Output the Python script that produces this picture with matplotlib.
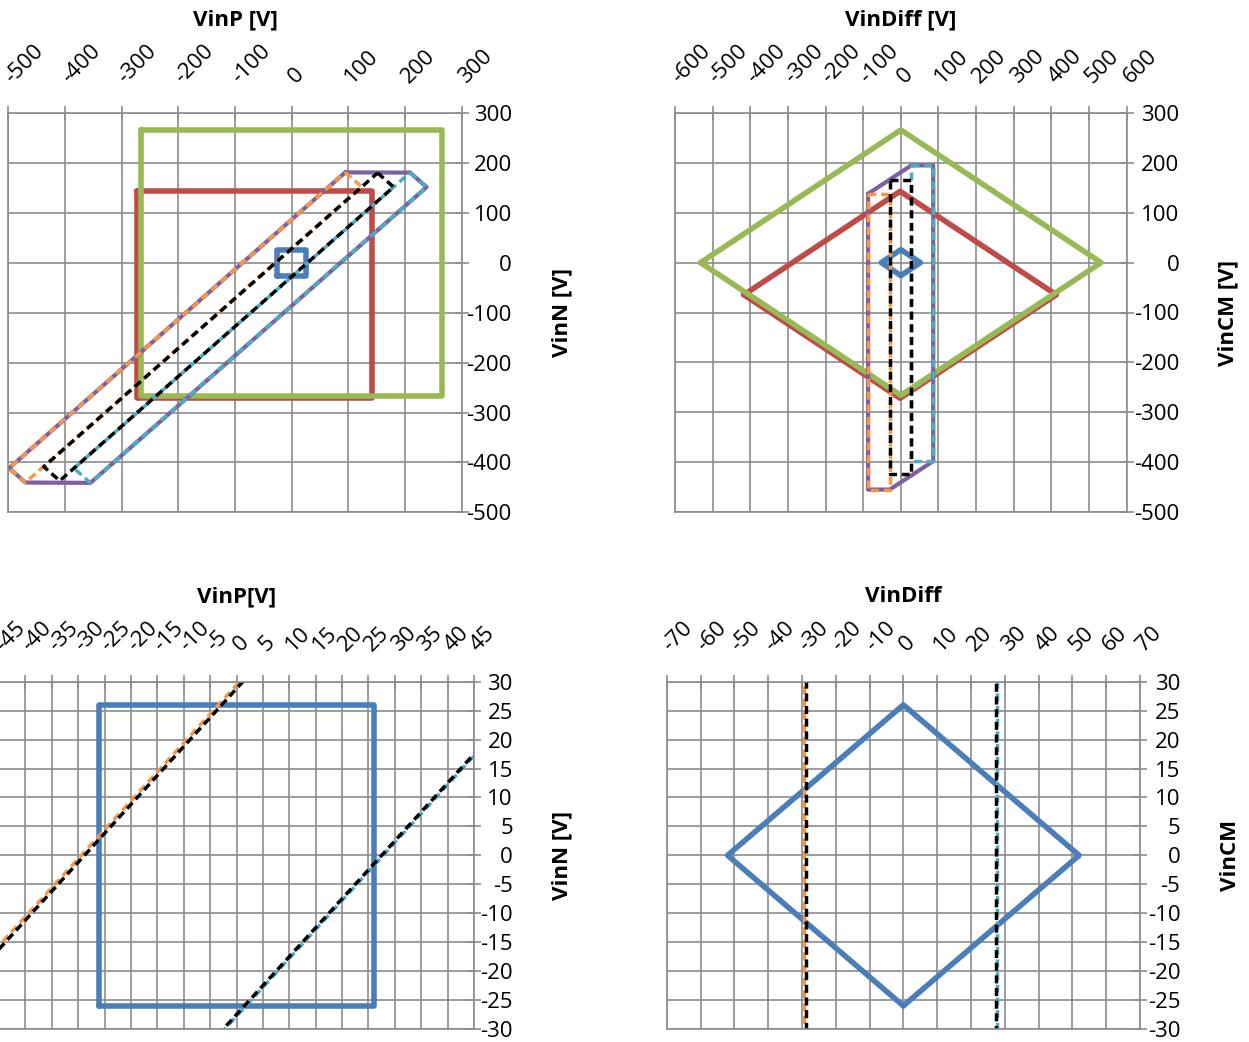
import matplotlib
matplotlib.use('Agg')
import matplotlib.pyplot as plt

plt.rcParams['font.family'] = ['Open Sans', 'DejaVu Sans']
plt.rcParams['axes.unicode_minus'] = False

# ---------------- data (VinP / VinN corner points of each region) ----------------
blue_p = [-26, 26, 26, -26, -26]
blue_n = [-26, -26, 26, 26, -26]
red_p = [-273, 142, 142, -273, -273]
red_n = [144, 144, -271, -271, 144]
green_p = [-266, 266, 266, -266, -266]
green_n = [266, 266, -266, -266, 266]
purple_p = [94.5, 208.9, 238.0, -355.0, -469.7, -498.5, 94.5]
purple_n = [181.5, 181.1, 152.0, -441.0, -440.3, -411.5, 181.5]
cyan_p = [208.9, 238.0, -355.0, -384.1, 208.9]
cyan_n = [181.1, 152.0, -441.0, -411.9, 181.1]
orange_p = [94.5, 123.3, -469.7, -498.5, 94.5]
orange_n = [181.5, 152.7, -440.3, -411.5, 181.5]
black_p = [151.6, 179.75, -409.25, -437.4, 151.6]
black_n = [180.4, 152.25, -436.75, -408.6, 180.4]

# tick labels
tl_xticks = [-500, -400, -300, -200, -100, 0, 100, 200, 300]
tl_yticks = [-500, -400, -300, -200, -100, 0, 100, 200, 300]
tr_xticks = [-600, -500, -400, -300, -200, -100, 0, 100, 200, 300, 400, 500, 600]
tr_yticks = tl_yticks
bl_xticks = [-45, -40, -35, -30, -25, -20, -15, -10, -5, 0, 5, 10, 15, 20, 25, 30, 35, 40, 45]
bl_yticks = [-30, -25, -20, -15, -10, -5, 0, 5, 10, 15, 20, 25, 30]
br_xticks = [-70, -60, -50, -40, -30, -20, -10, 0, 10, 20, 30, 40, 50, 60, 70]
br_yticks = bl_yticks

DASH = (0, (2.3, 1.35))
series = [
    (blue_p, blue_n, dict(color='#4A7EBB', lw=4.0, ls='-')),
    (red_p, red_n, dict(color='#BE4B48', lw=4.0, ls='-')),
    (green_p, green_n, dict(color='#98B954', lw=4.0, ls='-')),
    (purple_p, purple_n, dict(color='#7D60A0', lw=3.0, ls='-')),
    (cyan_p, cyan_n, dict(color='#4BACC6', lw=2.5, ls=DASH)),
    (orange_p, orange_n, dict(color='#F79646', lw=2.5, ls=DASH)),
    (black_p, black_n, dict(color='black', lw=2.5, ls=DASH)),
]

W, H = 1249, 1042
fig = plt.figure(figsize=(W / 100, H / 100), dpi=100)

GRID = '#8C8C8C'
FS = 16


def make_ax(x0, y0, x1, y1):
    return fig.add_axes([x0 / W, 1 - y1 / H, (x1 - x0) / W, (y1 - y0) / H])


def style(ax, xt, yt, ypad):
    ax.set_xlim(xt[0], xt[-1])
    ax.set_ylim(yt[0], yt[-1])
    ax.xaxis.tick_top()
    ax.yaxis.tick_right()
    ax.set_xticks(xt)
    ax.set_xticklabels([str(v) for v in xt], rotation=45, ha='left', va='center',
                       rotation_mode='anchor')
    ax.set_yticks(yt)
    ax.set_yticklabels([str(v) for v in yt], ha='right')
    ax.grid(True, color=GRID, lw=1.2)
    ax.set_axisbelow(True)
    for s in ax.spines.values():
        s.set_color(GRID)
        s.set_linewidth(1.2)
    ax.tick_params(axis='both', direction='inout', length=10, width=1.2, color=GRID,
                   labelsize=FS, labelcolor='black')
    ax.tick_params(axis='x', pad=19)
    ax.tick_params(axis='y', pad=ypad)


def draw(ax, transform):
    for p, n, kw in series:
        xs, ys = transform(p, n)
        ax.plot(xs, ys, solid_joinstyle='round', solid_capstyle='round',
                dash_capstyle='butt', dash_joinstyle='round', **kw)


def pn(p, n):
    return p, n


def diffcm(p, n):
    return [a - b for a, b in zip(p, n)], [(a + b) / 2 for a, b in zip(p, n)]


boxes = {
    'tl': (8.3, 113.3, 461.7, 512.3),
    'tr': (675.0, 113.0, 1126.7, 512.0),
    'bl': (-1.0, 681.7, 474.0, 1029.0),
    'br': (666.7, 681.7, 1140.0, 1029.0),
}

ax_tl = make_ax(*boxes['tl'])
style(ax_tl, tl_xticks, tl_yticks, 31)
draw(ax_tl, pn)

ax_tr = make_ax(*boxes['tr'])
style(ax_tr, tr_xticks, tr_yticks, 33)
draw(ax_tr, diffcm)

ax_bl = make_ax(*boxes['bl'])
style(ax_bl, bl_xticks, bl_yticks, 23)
draw(ax_bl, pn)

ax_br = make_ax(*boxes['br'])
style(ax_br, br_xticks, br_yticks, 24)
draw(ax_br, diffcm)

titles = [
    ('tl', 'VinP [V]', 'VinN [V]', 20, 562),
    ('tr', 'VinDiff [V]', 'VinCM [V]', 20, 1228),
    ('bl', 'VinP[V]', 'VinN [V]', 597, 562),
    ('br', 'VinDiff', 'VinCM', 597, 1230),
]
for key, top, right, ty, rx in titles:
    x0, y0, x1, y1 = boxes[key]
    fig.text(((x0 + x1) / 2) / W, 1 - ty / H, top, ha='center', va='center',
             fontsize=FS, fontweight='bold')
    fig.text(rx / W, 1 - ((y0 + y1) / 2) / H, right, ha='center', va='center',
             rotation=90, fontsize=FS, fontweight='bold')

fig.savefig('out.png', dpi=100)
